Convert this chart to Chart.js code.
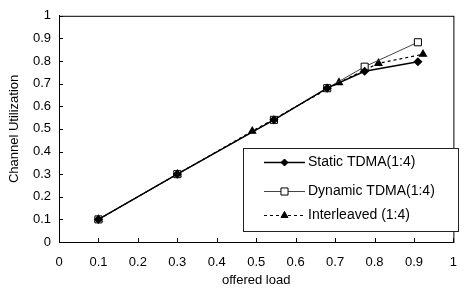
<!DOCTYPE html>
<html>
<head>
<meta charset="utf-8">
<script src="https://cdn.jsdelivr.net/npm/chart.js@4"></script>
<style>
  html, body { margin: 0; padding: 0; background: #fff; }
  #wrap { width: 470px; height: 288px; position: relative; }
</style>
</head>
<body>
<div id="wrap"><canvas id="chart"></canvas></div>
<script>
// offered load vs channel utilization
const staticLoad  = [0.1, 0.3, 0.545, 0.68, 0.775, 0.91];
const staticUtil  = [0.1, 0.3, 0.54, 0.68, 0.755, 0.797];
const dynamicLoad = [0.1, 0.3, 0.545, 0.68, 0.775, 0.91];
const dynamicUtil = [0.1, 0.3, 0.54, 0.68, 0.775, 0.883];
const interLoad   = [0.1, 0.3, 0.49, 0.71, 0.81, 0.923];
const interUtil   = [0.1, 0.3, 0.49, 0.705, 0.79, 0.83];

const seriesNames = ['Static TDMA(1:4)', 'Dynamic TDMA(1:4)', 'Interleaved (1:4)'];

const FONT = 'Arial, "Liberation Sans", Helvetica, sans-serif';

function pts(xs, ys) { return xs.map((x, i) => ({ x, y: ys[i] })); }
function fmt(v) { return String(Math.round(v * 10) / 10); }

// inward tick marks + frame around the plot
const framePlugin = {
  id: 'frame',
  afterDraw(chart) {
    const { ctx, chartArea: a, scales } = chart;
    ctx.save();
    ctx.strokeStyle = '#000';
    ctx.lineWidth = 1;
    ctx.strokeRect(a.left + 0.5, a.top + 0.5, a.right - a.left, a.bottom - a.top);
    ctx.beginPath();
    scales.x.ticks.forEach(t => {
      const px = Math.round(scales.x.getPixelForValue(t.value)) + 0.5;
      ctx.moveTo(px, a.bottom); ctx.lineTo(px, a.bottom - 4);
    });
    scales.y.ticks.forEach(t => {
      const py = Math.round(scales.y.getPixelForValue(t.value)) + 0.5;
      ctx.moveTo(a.left, py); ctx.lineTo(a.left + 4, py);
    });
    ctx.stroke();
    ctx.restore();
  }
};

// boxed legend inside the plot, bottom right
const legendPlugin = {
  id: 'boxLegend',
  afterDraw(chart) {
    const { ctx } = chart;
    const box = { x: 243.5, y: 148.5, w: 215, h: 83 };
    const rows = [162, 191, 215];
    ctx.save();
    ctx.fillStyle = '#fff';
    ctx.fillRect(box.x, box.y, box.w, box.h);
    ctx.strokeStyle = '#222';
    ctx.lineWidth = 1;
    ctx.strokeRect(box.x, box.y, box.w, box.h);
    chart.data.datasets.forEach((ds, i) => {
      const y = rows[i] + 0.5;
      ctx.strokeStyle = ds.borderColor;
      ctx.lineWidth = ds.borderWidth;
      ctx.setLineDash(ds.borderDash || []);
      ctx.beginPath();
      ctx.moveTo(264, y); ctx.lineTo(305, y);
      ctx.stroke();
      ctx.setLineDash([]);
      ctx.fillStyle = ds.pointBackgroundColor;
      ctx.strokeStyle = ds.pointBorderColor;
      ctx.lineWidth = 1;
      Chart.helpers.drawPoint(ctx, {
        pointStyle: ds.pointStyle,
        radius: ds.pointRadius,
        borderWidth: 1
      }, 284.5, y);
      ctx.fillStyle = '#000';
      ctx.font = '14px ' + FONT;
      ctx.textBaseline = 'middle';
      ctx.fillText(ds.label, 308, y);
    });
    ctx.restore();
  }
};

const ctx = document.getElementById('chart');
new Chart(ctx, {
  type: 'line',
  data: {
    datasets: [
      {
        label: seriesNames[0], data: pts(staticLoad, staticUtil),
        borderColor: '#000', borderWidth: 1.5, pointStyle: 'rectRot', pointRadius: 3.5,
        pointBackgroundColor: '#000', pointBorderColor: '#000'
      },
      {
        label: seriesNames[1], data: pts(dynamicLoad, dynamicUtil),
        borderColor: '#444', borderWidth: 1, pointStyle: 'rect', pointRadius: 5,
        pointBackgroundColor: '#fff', pointBorderColor: '#000', pointBorderWidth: 1
      },
      {
        label: seriesNames[2], data: pts(interLoad, interUtil),
        borderColor: '#000', borderWidth: 1.2, borderDash: [3, 3], pointStyle: 'triangle', pointRadius: 4,
        pointBackgroundColor: '#000', pointBorderColor: '#000'
      }
    ]
  },
  options: {
    responsive: true, maintainAspectRatio: false, animation: false,
    layout: { padding: { top: 11, right: 7, left: 0, bottom: 0 } },
    plugins: { legend: { display: false }, tooltip: { enabled: false } },
    scales: {
      x: {
        type: 'linear', min: 0, max: 1,
        ticks: { stepSize: 0.1, color: '#000', font: { family: FONT, size: 13 }, padding: 13, callback: fmt },
        grid: { display: false, drawTicks: false },
        border: { color: '#000' },
        title: { display: true, text: 'offered load', color: '#000', font: { family: FONT, size: 13 }, padding: { top: 1, bottom: 0 } },
        afterFit: s => { s.height = 46; }
      },
      y: {
        type: 'linear', min: 0, max: 1,
        ticks: { stepSize: 0.1, color: '#000', font: { family: FONT, size: 13 }, padding: 8, callback: fmt },
        grid: { display: false, drawTicks: false },
        border: { color: '#000' },
        title: { display: true, text: 'Channel Utilization', color: '#000', font: { family: FONT, size: 13 }, padding: { top: 7, bottom: 4 } },
        afterFit: s => { s.width = 59; }
      }
    }
  },
  plugins: [framePlugin, legendPlugin]
});
</script>
</body>
</html>
